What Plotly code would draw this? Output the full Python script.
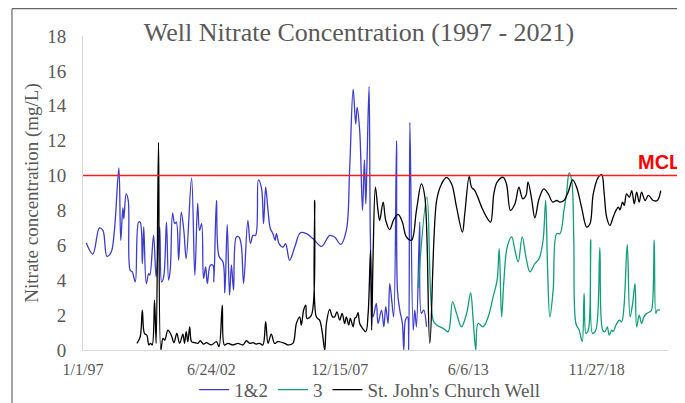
import numpy as np
import pandas as pd
import plotly.graph_objects as go

# ---------------- data (sample time in decimal years, nitrate mg/L) ----------------
wells_12_t = [1997.14, 1997.42, 1997.70, 1997.85, 1998.02, 1998.20, 1998.34, 1998.53, 1998.61, 1998.70,
              1998.74, 1998.84, 1998.93, 1999.01, 1999.10, 1999.23, 1999.37, 1999.44, 1999.53, 1999.59,
              1999.70, 1999.80, 1999.85, 2000.01, 2000.12, 2000.27, 2000.35, 2000.44, 2000.56, 2000.65,
              2000.72, 2000.82, 2000.91, 2000.98, 2001.08, 2001.19, 2001.30, 2001.40, 2001.63, 2001.77,
              2001.89, 2001.97, 2002.06, 2002.14, 2002.23, 2002.30, 2002.43, 2002.54, 2002.58, 2002.69,
              2002.80, 2002.97, 2003.05, 2003.15, 2003.25, 2003.33, 2003.42, 2003.54, 2003.65, 2003.75,
              2003.85, 2004.03, 2004.14, 2004.25, 2004.36, 2004.48, 2004.61, 2004.70, 2004.79, 2004.89,
              2004.99, 2005.10, 2005.19, 2005.25, 2005.36, 2005.53, 2005.64, 2005.81, 2006.03, 2006.27,
              2006.53, 2006.81, 2007.17, 2007.52, 2007.73, 2007.99, 2008.23, 2008.37, 2008.52, 2008.63,
              2008.69, 2008.80, 2008.92, 2009.00, 2009.06, 2009.11, 2009.20, 2009.26, 2009.37, 2009.51,
              2009.58, 2009.73, 2009.83, 2009.91, 2010.01, 2010.08, 2010.18, 2010.25, 2010.37, 2010.41,
              2010.51, 2010.62, 2010.68, 2010.75, 2010.84, 2010.89, 2010.94, 2011.08, 2011.15, 2011.22,
              2011.36, 2011.43, 2011.53, 2011.65]
wells_12_v = [6.13, 5.5, 7.0, 6.86, 5.37, 5.6, 6.86, 10.44, 6.29, 8.15,
              7.52, 8.95, 8.57, 4.57, 4.48, 3.9, 7.33, 7.33, 4.95, 7.05,
              3.81, 4.38, 4.29, 6.57, 4.19, 7.05, 3.9, 4.19, 7.33, 4.0,
              4.57, 7.85, 7.24, 7.33, 5.14, 7.9, 6.86, 5.24, 9.87, 4.29,
              8.42, 6.86, 7.24, 4.1, 4.76, 3.81, 4.86, 4.86, 3.9, 8.57,
              5.37, 5.05, 3.28, 7.2, 3.14, 4.86, 3.43, 6.48, 6.48, 6.0,
              3.81, 7.43, 6.1, 6.57, 6.57, 9.75, 9.3, 7.24, 9.33, 8.0,
              6.95, 6.67, 6.29, 6.67, 6.1, 5.9, 6.1, 5.14, 5.9, 6.72,
              6.67, 6.38, 5.94, 6.57, 6.48, 6.06, 6.86, 10.3, 14.95, 12.95,
              13.9, 12.57, 8.0, 10.9, 8.38, 10.67, 15.09, 6.1, 1.9, 2.67,
              1.52, 2.29, 1.33, 2.48, 1.52, 3.81, 2.67, 1.9, 12.0, 3.43,
              2.29, 1.52, 0.0, 1.71, 1.9, 0.0, 13.05, 1.14, 2.29, 1.33,
              7.33, 2.1, 2.29, 1.33]

well_3_t = [2011.29, 2011.67, 2011.93, 2012.08, 2012.36, 2012.57, 2012.76, 2012.93, 2013.14, 2013.36,
            2013.53, 2013.64, 2013.75, 2013.85, 2014.06, 2014.28, 2014.49, 2014.66, 2014.75, 2014.85,
            2014.95, 2015.09, 2015.28, 2015.42, 2015.56, 2015.73, 2015.89, 2016.06, 2016.27, 2016.45,
            2016.62, 2016.73, 2016.81, 2016.91, 2017.05, 2017.20, 2017.34, 2017.51, 2017.62, 2017.73,
            2017.84, 2017.93, 2018.02, 2018.16, 2018.29, 2018.37, 2018.45, 2018.55, 2018.65, 2018.73,
            2018.87, 2019.04, 2019.16, 2019.26, 2019.36, 2019.44, 2019.55, 2019.61, 2019.73, 2019.87,
            2019.97, 2020.07, 2020.21, 2020.33, 2020.44, 2020.54, 2020.61, 2020.72, 2020.82, 2020.92,
            2021.04, 2021.18, 2021.25, 2021.36, 2021.43, 2021.49, 2021.61]
well_3_v = [3.55, 8.76, 1.71, 1.43, 1.24, 1.05, 2.76, 2.1, 1.33, 2.1,
            3.28, 1.71, 0.0, 1.52, 1.33, 1.9, 3.05, 4.0, 5.81, 1.9,
            4.0, 5.9, 6.48, 5.71, 5.05, 6.48, 5.33, 4.48, 4.95, 5.24,
            6.29, 8.57, 4.76, 1.9, 3.43, 6.67, 6.67, 8.0, 8.95, 10.15,
            9.71, 6.29, 1.52, 1.14, 0.48, 3.24, 0.95, 1.14, 6.33, 0.95,
            1.14, 5.87, 1.14, 1.05, 1.33, 0.86, 1.14, 1.05, 1.43, 1.71,
            1.62, 2.48, 6.06, 1.9, 2.67, 3.81, 1.33, 2.0, 1.52, 1.9,
            2.1, 2.19, 2.29, 6.29, 2.1, 2.29, 2.29]

church_t = [1999.30, 1999.44, 1999.53, 1999.62, 1999.72, 1999.81, 1999.88, 1999.95, 2000.05, 2000.12,
            2000.22, 2000.32, 2000.41, 2000.49, 2000.62, 2000.76, 2000.88, 2001.00, 2001.12, 2001.26,
            2001.33, 2001.40, 2001.47, 2001.55, 2001.63, 2001.76, 2001.90, 2002.00, 2002.14, 2002.26,
            2002.47, 2002.69, 2002.80, 2002.94, 2003.03, 2003.18, 2003.39, 2003.61, 2003.82, 2003.97,
            2004.11, 2004.25, 2004.39, 2004.53, 2004.67, 2004.79, 2004.89, 2005.03, 2005.17, 2005.31,
            2005.60, 2005.74, 2005.95, 2006.10, 2006.24, 2006.31, 2006.41, 2006.50, 2006.55, 2006.74,
            2006.88, 2006.95, 2007.09, 2007.21, 2007.31, 2007.38, 2007.52, 2007.64, 2007.73, 2007.83,
            2007.95, 2008.05, 2008.16, 2008.23, 2008.33, 2008.40, 2008.52, 2008.59, 2008.66, 2008.73,
            2008.80, 2008.92, 2009.06, 2009.16, 2009.26, 2009.31, 2009.37, 2009.47, 2009.58, 2009.65,
            2009.80, 2009.91, 2010.08, 2010.25, 2010.44, 2010.62, 2010.79, 2011.01, 2011.22, 2011.43,
            2011.58, 2011.79, 2012.08, 2012.29, 2012.50, 2012.72, 2012.93, 2013.18, 2013.28, 2013.47,
            2013.57, 2013.71, 2014.00, 2014.21, 2014.38, 2014.52, 2014.66, 2014.92, 2015.06, 2015.23,
            2015.42, 2015.59, 2015.75, 2015.89, 2015.98, 2016.13, 2016.27, 2016.45, 2016.65, 2016.84,
            2017.03, 2017.20, 2017.34, 2017.51, 2017.69, 2017.88, 2018.05, 2018.26, 2018.48, 2018.62,
            2018.76, 2018.97, 2019.12, 2019.22, 2019.33, 2019.47, 2019.61, 2019.73, 2019.83, 2019.90,
            2020.01, 2020.08, 2020.18, 2020.30, 2020.40, 2020.51, 2020.61, 2020.72, 2020.82, 2020.97,
            2021.11, 2021.32, 2021.49, 2021.64]
church_v = [0.38, 0.76, 2.29, 0.95, 0.86, 0.29, 0.38, 0.29, 2.86, 0.38,
            11.9, 0.0, 0.67, 0.57, 1.14, 0.86, 0.42, 0.95, 0.38, 0.91,
            0.38, 1.05, 0.48, 1.33, 0.48, 0.42, 0.38, 0.53, 0.34, 0.42,
            0.29, 0.48, 0.19, 2.57, 0.29, 0.38, 0.29, 0.38, 0.29, 0.53,
            0.38, 0.42, 0.34, 0.38, 0.29, 1.62, 0.38, 0.91, 0.38, 0.48,
            0.38, 0.29, 0.38, 1.52, 1.9, 1.43, 2.29, 2.57, 1.81, 2.0,
            8.57, 1.9, 1.71, 0.95, 0.0, 1.52, 2.33, 1.9, 1.9, 2.19,
            1.71, 2.1, 1.52, 1.9, 1.43, 1.81, 1.33, 1.81, 1.9, 2.14,
            1.52, 1.24, 1.05, 2.1, 5.71, 1.14, 5.33, 9.33, 8.0, 7.43,
            8.48, 7.43, 6.9, 7.47, 7.77, 7.33, 6.48, 6.29, 8.0, 9.52,
            8.76, 0.38, 8.57, 9.52, 9.9, 9.52, 8.19, 6.76, 7.81, 9.95,
            9.33, 9.14, 8.19, 7.62, 7.33, 8.95, 9.62, 9.9, 9.52, 8.0,
            8.38, 9.33, 8.67, 8.86, 9.62, 8.67, 7.58, 8.67, 9.24, 8.95,
            8.48, 8.57, 8.48, 8.57, 9.05, 9.75, 9.33, 8.19, 7.05, 7.24,
            8.95, 9.9, 10.05, 9.05, 7.62, 7.14, 7.62, 8.0, 8.19, 8.04,
            8.48, 8.29, 8.95, 8.76, 9.14, 8.38, 9.05, 8.48, 9.05, 8.57,
            8.86, 8.57, 8.57, 9.14]

series_names = ["1&2", "3", "St. John's Church Well"]
MCL = 10
tick_dates = ["1997-01-01", "2002-06-24", "2007-12-15", "2013-06-06", "2018-11-27"]
tick_labels = ["1/1/97", "6/24/02", "12/15/07", "6/6/13", "11/27/18"]
x_range = ["1997-01-01", "2021-12-13"]
y_ticks = list(range(0, 19, 2))


def to_dates(years):
    base = pd.Timestamp("1997-01-01")
    return base + pd.to_timedelta((np.asarray(years) - 1997.0) * 365.25, unit="D")


GRAY = "#595959"
SERIF = "Liberation Serif"

fig = go.Figure()
for name, t, v, col in [
    (series_names[0], wells_12_t, wells_12_v, "#3C3CCF"),
    (series_names[1], well_3_t, well_3_v, "#129E78"),
    (series_names[2], church_t, church_v, "#000000"),
]:
    fig.add_trace(go.Scatter(x=to_dates(t), y=v, name=name, mode="lines",
                             line=dict(color=col, width=1.3, shape="spline", smoothing=1)))

# MCL reference line
fig.add_shape(type="line", xref="paper", yref="y", x0=0, x1=1.0155, y0=MCL, y1=MCL,
              line=dict(color="#FF1A1A", width=1.5), layer="above")
fig.add_annotation(xref="paper", yref="y", x=0.986, y=MCL + 0.76, text="<b>MCL</b>",
                   showarrow=False, xanchor="center", yanchor="middle",
                   font=dict(family="Liberation Sans", size=20, color="#FF0000"))

# chart border (left and top)
fig.add_shape(type="line", xref="paper", yref="paper", x0=-0.1214, x1=-0.1214, y0=1.087, y1=-0.3,
              line=dict(color="#666666", width=1.2))
fig.add_shape(type="line", xref="paper", yref="paper", x0=-0.1214, x1=1.1, y0=1.087, y1=1.087,
              line=dict(color="#666666", width=1.2))

# page body has an 8px margin, so the figure is sized to fit 685x403 window
fig.update_layout(
    width=677, height=395,
    margin=dict(l=75, r=17, t=28, b=53, autoexpand=False),
    paper_bgcolor="white", plot_bgcolor="white",
    title=dict(text="Well Nitrate Concentration (1997 - 2021)", x=0.5185, xref="container",
               xanchor="center", y=1 - 24 / 395, yref="container", yanchor="middle",
               font=dict(family=SERIF, size=26, color=GRAY)),
    showlegend=True,
    legend=dict(orientation="h", x=0.49, xanchor="center", y=-0.066, yanchor="top",
                font=dict(family=SERIF, size=19, color=GRAY), itemwidth=30,
                bgcolor="rgba(0,0,0,0)"),
    font=dict(family=SERIF, color=GRAY),
)
fig.update_xaxes(type="date", range=x_range, tickvals=tick_dates, ticktext=tick_labels,
                 showgrid=False, zeroline=False, showline=True, linecolor="#D9D9D9", linewidth=1,
                 ticks="", ticklabelstandoff=5, automargin=False,
                 tickfont=dict(family=SERIF, size=16, color=GRAY))
fig.update_yaxes(range=[0, 18], tickvals=y_ticks, showgrid=False, zeroline=False,
                 showline=True, linecolor="#D9D9D9", linewidth=1, ticks="", ticklabelstandoff=12,
                 automargin=False, tickfont=dict(family=SERIF, size=19, color=GRAY),
                 title=dict(text="Nitrate concentration (mg/L)", standoff=3,
                            font=dict(family=SERIF, size=19, color=GRAY)))

fig.write_html("out.html")
